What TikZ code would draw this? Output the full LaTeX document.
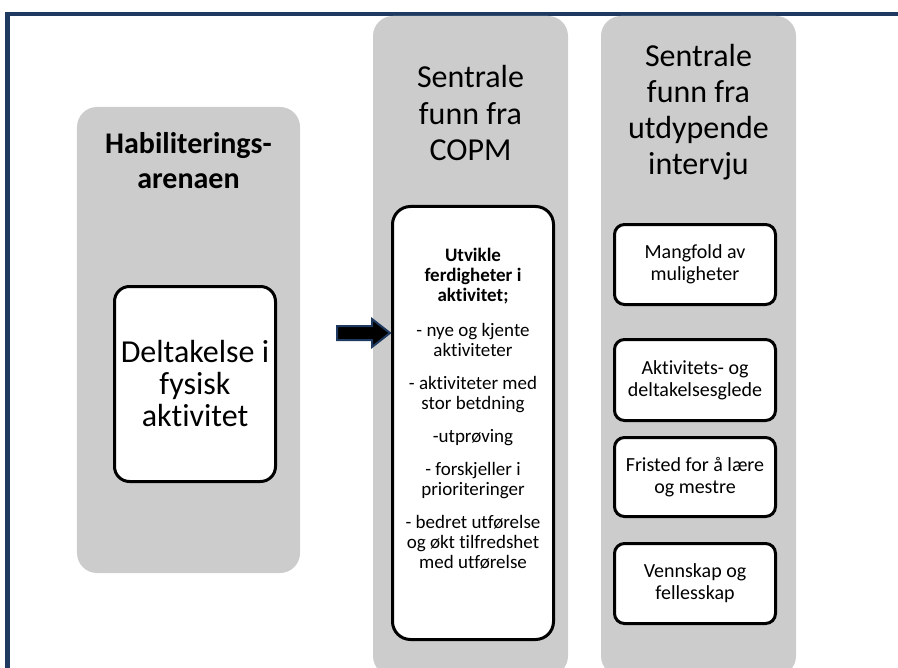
\documentclass[tikz,border=0pt]{standalone}
\usepackage{fontspec}
\setmainfont{Carlito}[Ligatures=NoCommon]
\usetikzlibrary{calc}
\definecolor{frameblue}{HTML}{1F3A60}
\definecolor{colgray}{HTML}{CCCCCC}
\begin{document}
\begin{tikzpicture}[x=1bp,y=-1bp,
  column/.style={fill=colgray, rounded corners=20bp, inner sep=0pt},
  card/.style={draw=black, line width=3bp, fill=white, inner sep=0pt, align=center},
  headtitle/.style={align=center, inner sep=0pt, font=\fontsize{32bp}{36bp}\selectfont},
  smalltext/.style={font=\fontsize{20bp}{22bp}\selectfont},
  arrowshape/.style={draw=frameblue, line width=2bp, fill=black, line join=miter}
]
\useasboundingbox (0,0) rectangle (898,668);
\clip (0,0) rectangle (898,668);

% outer frame, open to the right and bottom
\draw[frameblue, line width=4.5bp] (7.5,700) -- (7.5,14) -- (920,14);

% grey columns
\node[column, minimum width=223bp, minimum height=466bp] (col1) at (188.5,340) {};
\node[column, minimum width=195bp, minimum height=660bp] (col2) at (470.5,346) {};
\node[column, minimum width=195bp, minimum height=660bp] (col3) at (698.5,346) {};

% column headings
\node[headtitle, font=\fontsize{30bp}{35bp}\selectfont\bfseries] (t1) at (188.5,161) {Habiliterings-\\arenaen};
\node[headtitle] (t2) at (470.5,113) {Sentrale\\funn fra\\COPM};
\node[headtitle] (t3) at (698.5,112) {Sentrale\\funn fra\\utdypende\\intervju};

% first column card
\node[card, rounded corners=15bp, minimum width=161bp, minimum height=195bp,
      font=\fontsize{32bp}{32bp}\selectfont] (box1) at (195,384)
  {Deltakelse i\\fysisk\\aktivitet};

% COPM card
\node[card, rounded corners=18bp, minimum width=161bp, minimum height=433bp] (box2) at (473,423) {};
\node[align=center, inner sep=0pt, font=\fontsize{19bp}{20bp}\selectfont] (copm) at (473,409)
  {\textbf{Utvikle}\\\textbf{ferdigheter i}\\\textbf{aktivitet;}\\[15bp]
   - nye og kjente\\aktiviteter\\[13bp]
   - aktiviteter med\\stor betdning\\[13bp]
   -utprøving\\[13bp]
   - forskjeller i\\prioriteringer\\[13bp]
   - bedret utførelse\\og økt tilfredshet\\med utførelse};

% interview cards
\node[card, smalltext, rounded corners=10bp, minimum width=161bp, minimum height=80bp] (i1) at (695,264.5) {Mangfold av\\muligheter};
\node[card, smalltext, rounded corners=10bp, minimum width=161bp, minimum height=81bp] (i2) at (695,380) {Aktivitets- og\\deltakelsesglede};
\node[card, smalltext, rounded corners=10bp, minimum width=161bp, minimum height=79bp] (i3) at (695,477) {Fristed for å lære\\og mestre};
\node[card, smalltext, rounded corners=10bp, minimum width=161bp, minimum height=80bp] (i4) at (695,583.5) {Vennskap og\\fellesskap};

% block arrow pointing into the COPM card
\coordinate (arrowrow) at (0,333);
\coordinate (tip) at ($(box2.west |- arrowrow)+(-1,0)$);
\draw[arrowshape] (tip) -- ++(-18,-14) -- ++(0,7) -- ++(-35,0) -- ++(0,14)
  -- ++(35,0) -- ++(0,7) -- cycle;
\end{tikzpicture}
\end{document}
